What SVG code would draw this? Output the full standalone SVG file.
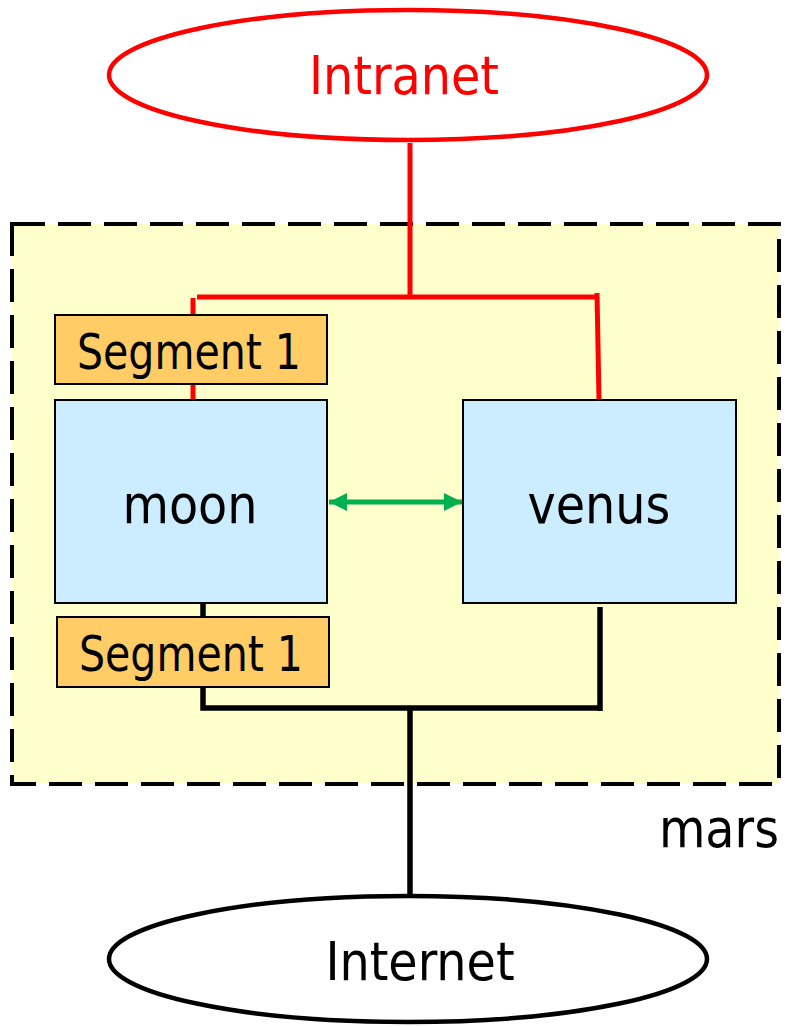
<svg xmlns="http://www.w3.org/2000/svg" width="785" height="1027" viewBox="0 0 785 1027">
<style>
text{font-family:"DejaVu Sans Condensed","DejaVu Sans",sans-serif;font-size:53px;fill:#000;text-anchor:middle}
text.s{font-size:49px}
.seg{fill:#FFCC66;stroke:#000;stroke-width:2}
.host{fill:#CCECFF;stroke:#000;stroke-width:2}
.red{stroke:#FF0000;stroke-width:5;fill:none}
.blk{stroke:#000;stroke-width:5.5;fill:none}
</style>
<defs>
<marker id="ah" viewBox="0 0 10 10" refX="10" refY="5" markerWidth="4" markerHeight="3.6" orient="auto-start-reverse" markerUnits="strokeWidth">
<path d="M0,0 L10,5 L0,10 z" fill="#00B050"/>
</marker>
</defs>
<g id="mars">
<rect x="12" y="224" width="767" height="560" fill="#FFFFCC" stroke="#000" stroke-width="4" stroke-dasharray="33,13"/>
<text x="779" y="847" style="text-anchor:end">mars</text>
</g>
<g id="connectors">
<path class="red" d="M410,143 V297 M197,297 H598 M193,298 V315 M193,384 V402 M597,293 L599,400"/>
<path class="blk" d="M203,603 V617 M203,687 V708 H600 M600,607 V711 M410,708 V896"/>
<line x1="329" y1="502" x2="462" y2="502" stroke="#00B050" stroke-width="5" marker-start="url(#ah)" marker-end="url(#ah)"/>
</g>
<g id="intranet">
<ellipse cx="408" cy="75" rx="299" ry="65" fill="#fff" stroke="#FF0000" stroke-width="4.5"/>
<text x="404" y="94" style="fill:#FF0000">Intranet</text>
</g>
<g id="internet">
<ellipse cx="408" cy="959" rx="299" ry="63" fill="#fff" stroke="#000" stroke-width="4.5"/>
<text x="420" y="980">Internet</text>
</g>
<g id="segment-top">
<rect class="seg" x="55" y="315" width="272" height="69"/>
<text class="s" x="189" y="369" textLength="224" lengthAdjust="spacingAndGlyphs">Segment 1</text>
</g>
<g id="moon">
<rect class="host" x="55" y="400" width="272" height="203"/>
<text x="190" y="523">moon</text>
</g>
<g id="venus">
<rect class="host" x="463" y="400" width="273" height="203"/>
<text x="599" y="523">venus</text>
</g>
<g id="segment-bottom">
<rect class="seg" x="57" y="617" width="272" height="70"/>
<text class="s" x="191" y="671" textLength="224" lengthAdjust="spacingAndGlyphs">Segment 1</text>
</g>
</svg>
